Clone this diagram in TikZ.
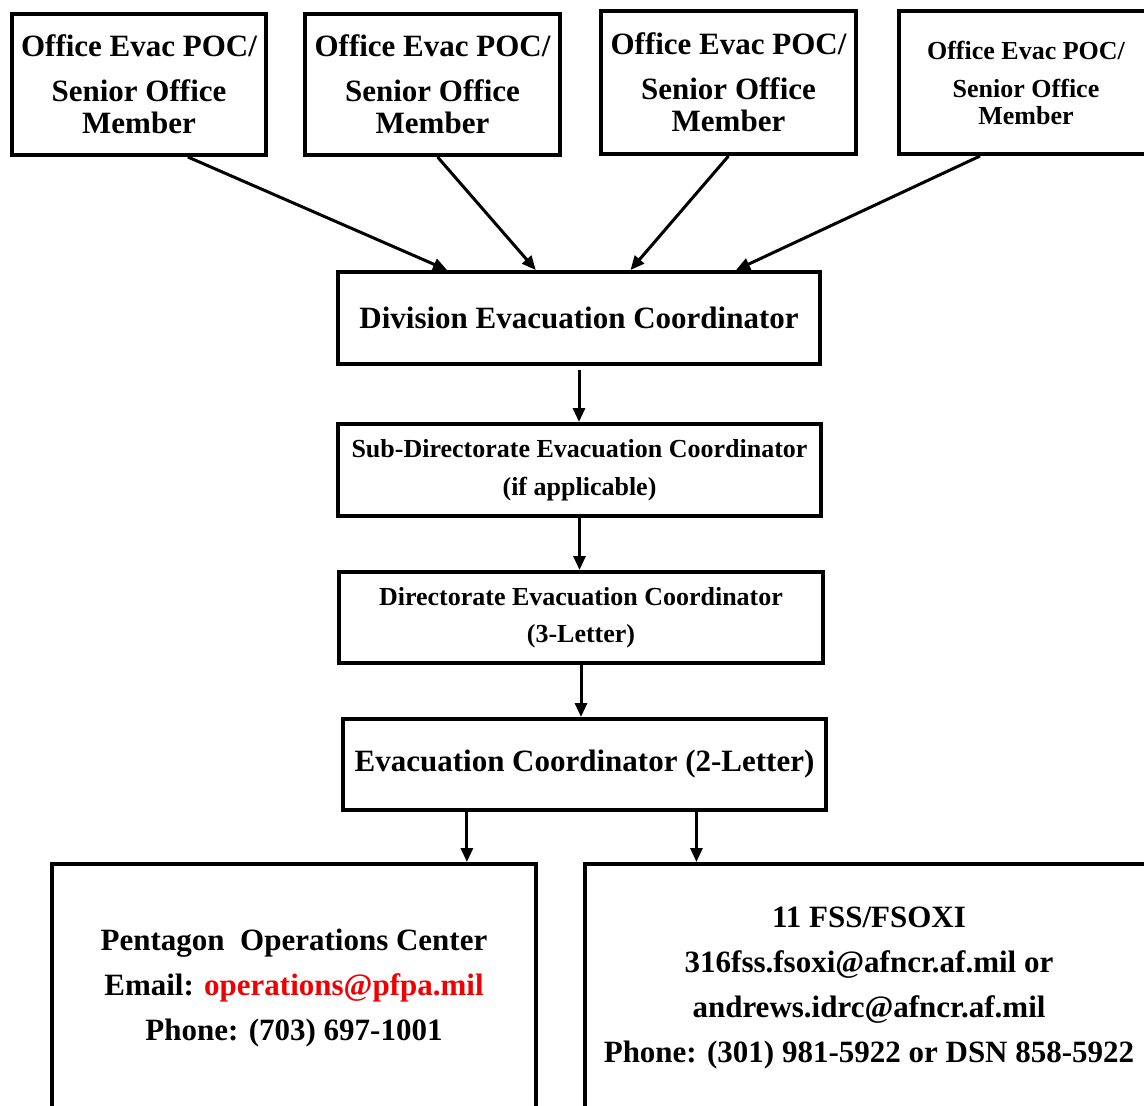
\documentclass[tikz,border=0pt]{standalone}
\usepackage{fontspec}
\setmainfont{Liberation Serif}
\usetikzlibrary{arrows.meta}
\definecolor{mailred}{RGB}{240,0,0}

\tikzset{
  evacbox/.style={draw, line width=2pt, inner sep=0pt, align=center,
    font=\bfseries\fontsize{15.5}{16}\selectfont},
  smallbox/.style={evacbox, font=\bfseries\fontsize{13}{13.5}\selectfont},
  contactbox/.style={evacbox, font=\bfseries\fontsize{15.5}{22.5}\selectfont},
  flow/.style={->, line width=1.5pt},
}

\begin{document}
\begin{tikzpicture}[x=0.5pt, y=-0.5pt, >={Triangle[length=7pt,width=6pt]}]

    % === page ===
    \fill[white] (0,0) rectangle (1144,1105);
    \useasboundingbox (0,0) rectangle (1144,1105);

    % === office boxes ===
    \node[evacbox, minimum width=127pt, minimum height=70.5pt] (poc1) at (139,84.5)
        {Office Evac POC/\\[6.5pt]Senior Office\\Member};
    \node[evacbox, minimum width=127.5pt, minimum height=70.5pt] (poc2) at (432.5,84.5)
        {Office Evac POC/\\[6.5pt]Senior Office\\Member};
    \node[evacbox, minimum width=127.5pt, minimum height=71.5pt] (poc3) at (728.5,82.5)
        {Office Evac POC/\\[6.5pt]Senior Office\\Member};
    \node[smallbox, minimum width=127pt, minimum height=71.5pt] (poc4) at (1026,82.5)
        {Office Evac POC/\\[5.5pt]Senior Office\\Member};

    % === coordinator chain ===
    \node[evacbox, minimum width=241pt, minimum height=46pt] (div) at (579,318)
        {Division Evacuation Coordinator};
    \node[smallbox, minimum width=241.5pt, minimum height=46pt] (subdir) at (579.5,470)
        {Sub-Directorate Evacuation Coordinator\\[5.5pt](if applicable)};
    \node[smallbox, minimum width=242pt, minimum height=45.5pt] (dir) at (581,617.5)
        {Directorate Evacuation Coordinator\\[5pt](3-Letter)};
    \node[evacbox, minimum width=241.5pt, minimum height=45.5pt] (two) at (584.5,764.5)
        {Evacuation Coordinator (2-Letter)};

    % === contact boxes ===
    \node[contactbox, minimum width=242pt, minimum height=124pt] (pent) at (294,988)
        {Pentagon\ \ Operations Center\\
         Email: \textcolor{mailred}{operations@pfpa.mil}\\
         Phone: (703) 697-1001};
    \node[contactbox, minimum width=284pt, minimum height=124pt] (fss) at (869,988)
        {11 FSS/FSOXI\\
         316fss.fsoxi@afncr.af.mil or\\
         andrews.idrc@afncr.af.mil\\
         Phone: (301) 981-5922 or DSN 858-5922};

    % === arrows ===
    \draw[flow] (poc1.-56) -- (div.160);
    \draw[flow] (poc2.-86) -- (div.132.5);
    \draw[flow] (poc3.south) -- (div.43.3);
    \draw[flow] (poc4.-122) -- (div.17.1);

    \draw[flow, shorten <=2pt] (div.south) -- (div.south |- subdir.north);
    \draw[flow] (subdir.south) -- (subdir.south |- dir.north);
    \draw[flow] (dir.south) -- (dir.south |- two.north);

    \draw[flow] (two.-158.5) -- (two.-158.5 |- pent.north);
    \draw[flow] (two.-23.3) -- (two.-23.3 |- fss.north);

\end{tikzpicture}
\end{document}
